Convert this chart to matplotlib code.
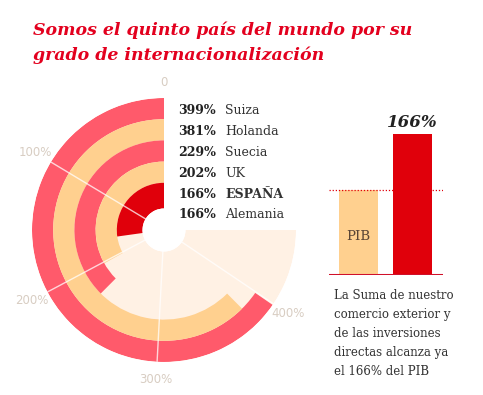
import numpy as np
import matplotlib
matplotlib.use("Agg")
import matplotlib.pyplot as plt

# data
countries = ["Suiza", "Holanda", "Suecia", "UK", "ESPAÑA", "Alemania"]
values = [399, 381, 229, 202, 166, 166]
ring_colors = ["#FF5A6B", "#FFD08F", "#FF5A6B", "#FFD08F", "#E0000B"]
grid_vals = [0, 100, 200, 300, 400]
grid_labels = ["0", "100%", "200%", "300%", "400%"]
bar_names = ["PIB", "Comercio + inversión"]
bar_vals = [100, 166]

W, H = 483, 395
DEG_PER_PCT = 0.59
AX_MAX = 270 / DEG_PER_PCT   # fondo cubre 270 grados

fig = plt.figure(figsize=(W / 100, H / 100), dpi=100)
fig.patch.set_facecolor("white")

SERIF = ["DejaVu Serif"]
RED = "#E3001E"

fig.text(33 / W, 1 - 30 / H, "Somos el quinto país del mundo por su",
         color=RED, fontsize=12.5, fontweight="bold", style="italic",
         family=SERIF, va="center", ha="left")
fig.text(33 / W, 1 - 55 / H, "grado de internacionalización",
         color=RED, fontsize=12.5, fontweight="bold", style="italic",
         family=SERIF, va="center", ha="left")

# --- radial chart ---
cx, cy, R = 164, 230, 132
HOLE = 21.5
RING = 21.2
ax = fig.add_axes([(cx - R) / W, (H - cy - R) / H, 2 * R / W, 2 * R / H],
                  projection="polar")
ax.set_theta_zero_location("N")
ax.set_theta_direction(1)
ax.set_ylim(0, R)
ax.axis("off")

to_rad = lambda v: np.deg2rad(v * DEG_PER_PCT)

# background
ax.bar(0, R - HOLE, width=to_rad(AX_MAX), bottom=HOLE, align="edge",
       color="#FFF1E4", linewidth=0, zorder=1)

n_rings = len(ring_colors)
for i in range(n_rings):
    outer = R - RING * i
    inner = outer - RING if i < n_rings - 1 else HOLE
    ax.bar(0, outer - inner, width=to_rad(values[i]), bottom=inner,
           align="edge", color=ring_colors[i], linewidth=0, zorder=2)

for gv, gl in zip(grid_vals, grid_labels):
    t = to_rad(gv)
    if gv > 0:
        ax.plot([t, t], [HOLE, R], color="white", lw=1.0, alpha=0.75, zorder=3)
    ax.text(t, 150 if gv else 148, gl, color="#D8CDC2", fontsize=8.5,
            ha="center", va="center", family=["DejaVu Sans"], clip_on=False)

# hole
ax.bar(0, HOLE, width=2 * np.pi, bottom=0, align="edge", color="white",
       linewidth=0, zorder=4)

# legend rows
for i, (c, v) in enumerate(zip(countries, values)):
    y = 1 - (111 + 20.8 * i) / H
    fig.text(178 / W, y, f"{v}%", fontsize=9, fontweight="bold",
             family=SERIF, color="#222222", va="center", ha="left")
    fig.text(225 / W, y, c, fontsize=9,
             fontweight="bold" if c == "ESPAÑA" else "normal",
             family=SERIF, color="#333333", va="center", ha="left")

# --- bar panel ---
left_px, right_px, base_px = 329, 443, 275
top_px = 120
bx = fig.add_axes([left_px / W, (H - base_px) / H, (right_px - left_px) / W,
                   (base_px - top_px) / H])
px_per_pct = 85 / 100
bx.set_ylim(0, (base_px - top_px) / px_per_pct)
bx.set_xlim(-0.546, 1.565)
bx.bar([0, 1], bar_vals, width=0.72, color=["#FFD08F", "#E0000B"], zorder=2)
bx.axhline(bar_vals[0], color="#E0000B", lw=0.9, ls=(0, (1, 1.5)), zorder=3)
bx.axhline(0, color="#D0102A", lw=2.2, zorder=4)
bx.text(0, bar_vals[0] * 0.45, bar_names[0], ha="center", va="center",
        fontsize=9.5, family=SERIF, color="#5A4535", zorder=5)
bx.text(1, bar_vals[1] + 3.5, f"{bar_vals[1]}%", ha="center", va="bottom",
        fontsize=12, fontweight="bold", style="italic", family=SERIF,
        color="#222222")
bx.axis("off")

fig.text(334 / W, 1 - 289 / H,
         "La Suma de nuestro\ncomercio exterior y\nde las inversiones\n"
         "directas alcanza ya\nel 166% del PIB",
         fontsize=8.5, family=SERIF, color="#333333", va="top", ha="left",
         linespacing=1.6)

fig.savefig("out.png", dpi=100, facecolor="white")
